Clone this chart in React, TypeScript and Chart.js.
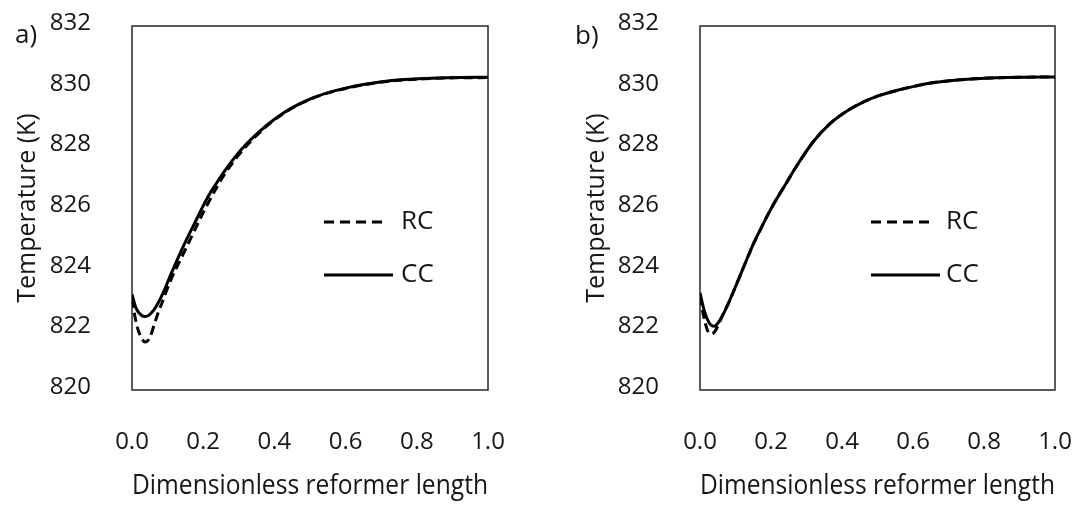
import React, { useEffect, useRef } from "react";
import { Chart, registerables } from "chart.js";

Chart.register(...registerables);

// ---- data ----
const seriesNames = ["RC", "CC"];
const panelLabels = ["a)", "b)"];
const xAxisTitle = "Dimensionless reformer length";
const yAxisTitle = "Temperature (K)";
const xTickValues = [0, 0.2, 0.4, 0.6, 0.8, 1.0];
const yTickValues = [820, 822, 824, 826, 828, 830, 832];

const aRcX = [0, 0.012, 0.025, 0.037, 0.05, 0.061, 0.075, 0.084, 0.108, 0.14, 0.165, 0.2, 0.239, 0.262, 0.309, 0.356, 0.403, 0.449, 0.506, 0.556, 0.603, 0.65, 0.73, 0.824, 0.91, 1.0];
const aRcY = [823.0, 822.2, 821.75, 821.58, 821.72, 822.1, 822.6, 822.86, 823.6, 824.39, 825.0, 825.85, 826.7, 827.15, 827.88, 828.46, 828.93, 829.29, 829.61, 829.81, 829.95, 830.06, 830.19, 830.26, 830.29, 830.3];

const aCcX = [0, 0.012, 0.025, 0.037, 0.047, 0.061, 0.075, 0.089, 0.108, 0.131, 0.154, 0.178, 0.21, 0.239, 0.262, 0.309, 0.356, 0.403, 0.449, 0.506, 0.556, 0.603, 0.65, 0.73, 0.824, 0.91, 1.0];
const aCcY = [823.15, 822.68, 822.48, 822.42, 822.46, 822.63, 822.9, 823.24, 823.78, 824.4, 824.98, 825.55, 826.3, 826.85, 827.25, 827.95, 828.5, 828.95, 829.3, 829.62, 829.82, 829.96, 830.07, 830.2, 830.27, 830.3, 830.31];

const bRcX = [0, 0.01, 0.02, 0.03, 0.04, 0.05, 0.065, 0.08, 0.104, 0.127, 0.151, 0.174, 0.198, 0.221, 0.245, 0.273, 0.32, 0.367, 0.414, 0.461, 0.508, 0.556, 0.603, 0.65, 0.697, 0.791, 0.9, 1.0];
const bRcY = [823.1, 822.45, 822.0, 821.85, 821.9, 822.1, 822.5, 822.85, 823.52, 824.17, 824.83, 825.38, 825.93, 826.4, 826.86, 827.4, 828.2, 828.79, 829.2, 829.5, 829.72, 829.88, 830.01, 830.12, 830.19, 830.27, 830.31, 830.32];

const bCcX = [0, 0.01, 0.02, 0.03, 0.04, 0.056, 0.08, 0.104, 0.127, 0.151, 0.174, 0.198, 0.221, 0.245, 0.273, 0.32, 0.367, 0.414, 0.461, 0.508, 0.556, 0.603, 0.65, 0.697, 0.791, 0.9, 1.0];
const bCcY = [823.2, 822.7, 822.35, 822.15, 822.1, 822.3, 822.86, 823.52, 824.17, 824.83, 825.38, 825.93, 826.4, 826.86, 827.4, 828.2, 828.79, 829.2, 829.5, 829.72, 829.88, 830.01, 830.12, 830.19, 830.27, 830.31, 830.32];

// ---- styling / layout ----
const FONT = "'Open Sans', 'Noto Sans', 'DejaVu Sans', sans-serif";
const TEXT = "#161616";
const TICK_FS = 24;
const XTITLE_FS = 28;
const YTITLE_FS = 25;
const LEGEND_FS = 26;

type Layout = {
  left: number;
  width: number;
  plotLeft: number;
  plotRight: number;
  labelX: number;
  labelY: number;
  legendX: number;
  rcLineEnd: number;
  ccLineEnd: number;
  legendTextX: number;
};

const layoutA: Layout = { left: 0, width: 540, plotLeft: 132, plotRight: 488, labelX: 15, labelY: 36, legendX: 324, rcLineEnd: 385, ccLineEnd: 393, legendTextX: 401 };
const layoutB: Layout = { left: 569, width: 510, plotLeft: 131, plotRight: 486, labelX: 6, labelY: 37, legendX: 302, rcLineEnd: 363, ccLineEnd: 371, legendTextX: 377 };

function toPts(xs: number[], ys: number[]) {
  return xs.map((x, i) => ({ x, y: ys[i] }));
}

function Panel(props: { label: string; rcX: number[]; rcY: number[]; ccX: number[]; ccY: number[]; lay: Layout }) {
  const ref = useRef<HTMLCanvasElement | null>(null);
  const { label, rcX, rcY, ccX, ccY, lay } = props;

  useEffect(() => {
    if (!ref.current) return;
    const overlay = {
      id: "overlay",
      beforeDatasetsDraw(chart: any) {
        const { ctx, chartArea } = chart;
        ctx.save();
        ctx.strokeStyle = "#262626";
        ctx.lineWidth = 1.5;
        ctx.strokeRect(chartArea.left, chartArea.top, chartArea.right - chartArea.left, chartArea.bottom - chartArea.top);
        ctx.restore();
      },
      afterDraw(chart: any) {
        const { ctx } = chart;
        ctx.save();
        ctx.font = `${LEGEND_FS}px ${FONT}`;
        ctx.fillStyle = TEXT;
        ctx.textBaseline = "middle";
        ctx.textAlign = "left";
        ctx.fillText(label, lay.labelX, lay.labelY);
        const rows = [
          { name: seriesNames[0], y: 222, dash: [10, 6], end: lay.rcLineEnd },
          { name: seriesNames[1], y: 275, dash: [], end: lay.ccLineEnd },
        ];
        rows.forEach((r) => {
          ctx.beginPath();
          ctx.setLineDash(r.dash);
          ctx.lineWidth = 3.2;
          ctx.strokeStyle = "#000";
          ctx.lineCap = "butt";
          ctx.moveTo(lay.legendX, r.y);
          ctx.lineTo(r.end, r.y);
          ctx.stroke();
          ctx.setLineDash([]);
          ctx.fillText(r.name, lay.legendTextX, r.y);
        });
        ctx.restore();
      },
    };

    const chart = new Chart(ref.current, {
      type: "scatter",
      data: {
        datasets: [
          {
            label: seriesNames[0],
            data: toPts(rcX, rcY),
            showLine: true,
            borderColor: "#000",
            backgroundColor: "#000",
            borderWidth: 3,
            borderDash: [9, 5],
            pointRadius: 0,
            cubicInterpolationMode: "monotone",
          },
          {
            label: seriesNames[1],
            data: toPts(ccX, ccY),
            showLine: true,
            borderColor: "#000",
            backgroundColor: "#000",
            borderWidth: 3,
            pointRadius: 0,
            cubicInterpolationMode: "monotone",
          },
        ],
      },
      options: {
        animation: false,
        responsive: false,
        devicePixelRatio: 1,
        layout: { padding: { left: 0, top: 26, right: lay.width - lay.plotRight, bottom: 0 } },
        plugins: { legend: { display: false }, tooltip: { enabled: false } },
        scales: {
          x: {
            type: "linear",
            position: "bottom",
            min: 0,
            max: 1,
            afterBuildTicks: (s: any) => {
              s.ticks = xTickValues.map((v) => ({ value: v }));
            },
            afterFit: (s: any) => {
              s.height = 120;
              s.paddingLeft = 0;
              s.paddingRight = 0;
            },
            grid: { display: false, drawTicks: false },
            border: { display: false },
            ticks: {
              padding: 38,
              color: TEXT,
              font: { size: TICK_FS, family: FONT },
              maxRotation: 0,
              callback: (v: any) => Number(v).toFixed(1),
            },
            title: {
              display: true,
              text: xAxisTitle,
              color: TEXT,
              font: { size: XTITLE_FS, family: FONT },
              padding: { top: 0, bottom: 7 },
            },
          },
          y: {
            type: "linear",
            position: "left",
            min: 820,
            max: 832,
            afterBuildTicks: (s: any) => {
              s.ticks = yTickValues.map((v) => ({ value: v }));
            },
            afterFit: (s: any) => {
              s.width = lay.plotLeft;
              s.paddingTop = 0;
              s.paddingBottom = 0;
            },
            grid: { display: false, drawTicks: false },
            border: { display: false },
            ticks: {
              padding: 41,
              color: TEXT,
              font: { size: TICK_FS, family: FONT },
              labelOffset: -3,
              callback: (v: any) => String(v),
            },
            title: {
              display: true,
              text: yAxisTitle,
              color: TEXT,
              font: { size: YTITLE_FS, family: FONT },
              padding: { top: 13, bottom: 0 },
            },
          },
        },
      },
      plugins: [overlay],
    } as any);
    return () => chart.destroy();
  }, []);

  return (
    <canvas
      ref={ref}
      width={lay.width}
      height={510}
      style={{ position: "absolute", left: lay.left, top: 0, width: lay.width, height: 510 }}
    />
  );
}

export default function App() {
  return (
    <div style={{ position: "absolute", left: 0, top: 0, width: 1079, height: 510, background: "#fff", overflow: "hidden" }}>
      <Panel label={panelLabels[0]} rcX={aRcX} rcY={aRcY} ccX={aCcX} ccY={aCcY} lay={layoutA} />
      <Panel label={panelLabels[1]} rcX={bRcX} rcY={bRcY} ccX={bCcX} ccY={bCcY} lay={layoutB} />
    </div>
  );
}
